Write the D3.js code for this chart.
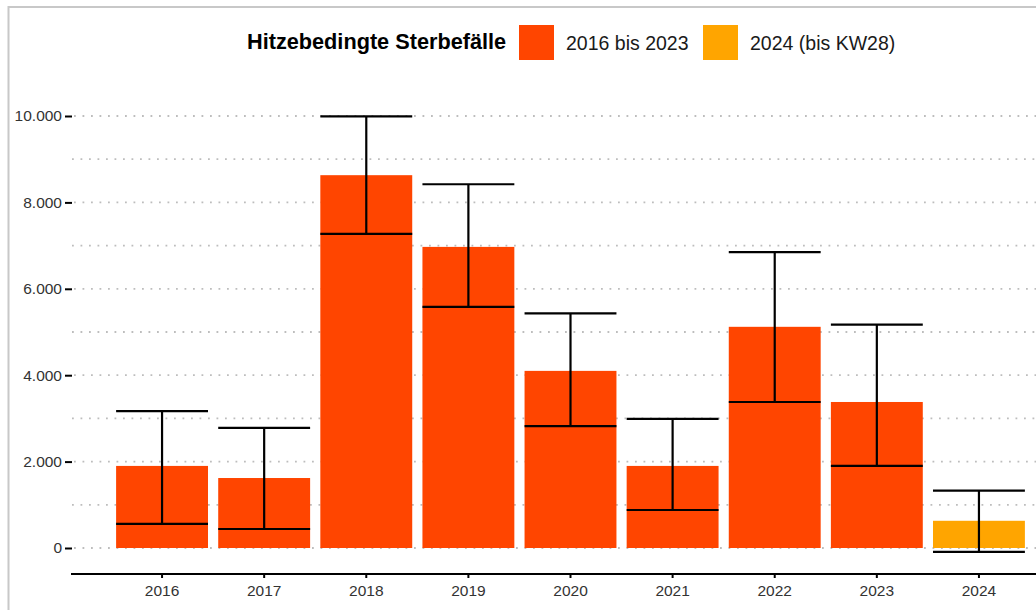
<!DOCTYPE html>
<html>
<head>
<meta charset="utf-8">
<script src="https://cdn.jsdelivr.net/npm/d3@7"></script>
<style>
  html, body { margin: 0; padding: 0; background: #fff; }
  svg { display: block; font-family: "Liberation Sans", Arial, sans-serif; }
</style>
</head>
<body>
<svg id="chart" width="1036" height="610"></svg>
<script>
// ---- data ----
const years = ["2016", "2017", "2018", "2019", "2020", "2021", "2022", "2023", "2024"];
const deaths = [1900, 1620, 8630, 6970, 4100, 1900, 5120, 3380, 630];
const lower = [560, 440, 7270, 5580, 2820, 880, 3380, 1900, -90];
const upper = [3170, 2780, 9990, 8420, 5430, 2990, 6850, 5170, 1330];
const group = ["a", "a", "a", "a", "a", "a", "a", "a", "b"];
const legendTitle = "Hitzebedingte Sterbefälle";
const legendLabels = ["2016 bis 2023", "2024 (bis KW28)"];
const majorTicks = [0, 2000, 4000, 6000, 8000, 10000];
const minorTicks = [1000, 3000, 5000, 7000, 9000];

const colors = { a: "#FF4500", b: "#FFA500" };

const svg = d3.select("#chart");
const W = 1036, H = 610;

const de = d3.formatLocale({ decimal: ",", thousands: ".", grouping: [3], currency: ["", " €"] });
const fmt = de.format(",d");

const x = d3.scaleBand().domain(years).range([111, 1030]).paddingInner(0.1).paddingOuter(0.05);
const y = d3.scaleLinear().domain([0, 10000]).range([548, 116]);

// outer frame (top and left)
svg.append("line").attr("x1", 8).attr("x2", W).attr("y1", 7).attr("y2", 7)
  .attr("stroke", "#c8c8c8").attr("stroke-width", 2);
svg.append("line").attr("x1", 8.5).attr("x2", 8.5).attr("y1", 6).attr("y2", H)
  .attr("stroke", "#c8c8c8").attr("stroke-width", 2);

// grid
const grid = svg.append("g");
grid.selectAll("line.major").data(majorTicks).join("line")
  .attr("x1", 72).attr("x2", W)
  .attr("y1", d => y(d)).attr("y2", d => y(d))
  .attr("stroke", "#bdbdbd").attr("stroke-width", 1.8)
  .attr("stroke-dasharray", "1.8,6.7").attr("stroke-dashoffset", -2);
grid.selectAll("line.minor").data(minorTicks).join("line")
  .attr("x1", 70).attr("x2", W)
  .attr("y1", d => y(d)).attr("y2", d => y(d))
  .attr("stroke", "#bdbdbd").attr("stroke-width", 1.8)
  .attr("stroke-dasharray", "1.8,6.7").attr("stroke-dashoffset", -2);

// bars
svg.append("g").selectAll("rect").data(years).join("rect")
  .attr("x", d => x(d))
  .attr("width", x.bandwidth())
  .attr("y", (d, i) => y(deaths[i]))
  .attr("height", (d, i) => y(0) - y(deaths[i]))
  .attr("fill", (d, i) => colors[group[i]]);

// error bars
const eb = svg.append("g").attr("stroke", "#000").attr("stroke-width", 2.2).attr("fill", "none");
years.forEach((yr, i) => {
  const cx = x(yr) + x.bandwidth() / 2;
  eb.append("line").attr("x1", cx).attr("x2", cx).attr("y1", y(upper[i])).attr("y2", y(lower[i]));
  eb.append("line").attr("x1", x(yr)).attr("x2", x(yr) + x.bandwidth()).attr("y1", y(upper[i])).attr("y2", y(upper[i]));
  eb.append("line").attr("x1", x(yr)).attr("x2", x(yr) + x.bandwidth()).attr("y1", y(lower[i])).attr("y2", y(lower[i]));
});

// y axis
const yAxis = svg.append("g").attr("transform", "translate(72,0)")
  .call(d3.axisLeft(y).tickValues(majorTicks).tickFormat(fmt).tickSize(7).tickPadding(3));
yAxis.select(".domain").remove();
yAxis.selectAll(".tick line").attr("stroke", "#000").attr("stroke-width", 2);
yAxis.selectAll(".tick text").attr("fill", "#333").style("font-size", "15.5px")
  .style("font-family", "'Liberation Sans', Arial, sans-serif");

// x axis
const xAxis = svg.append("g").attr("transform", "translate(0,574)")
  .call(d3.axisBottom(x).tickSize(4).tickPadding(7));
xAxis.select(".domain").remove();
xAxis.selectAll(".tick line").attr("stroke", "#000").attr("stroke-width", 2);
xAxis.selectAll(".tick text").attr("fill", "#333").style("font-size", "15.5px")
  .style("font-family", "'Liberation Sans', Arial, sans-serif");
svg.append("line").attr("x1", 71).attr("x2", W).attr("y1", 574).attr("y2", 574)
  .attr("stroke", "#000").attr("stroke-width", 2.2);

// legend
const lg = svg.append("g");
lg.append("text").attr("x", 247).attr("y", 49).text(legendTitle)
  .attr("font-weight", "bold").attr("font-size", 21.7).attr("fill", "#000");
const items = [
  { label: legendLabels[0], color: colors.a, sx: 519, tx: 566 },
  { label: legendLabels[1], color: colors.b, sx: 703, tx: 750 }
];
items.forEach(it => {
  lg.append("rect").attr("x", it.sx).attr("y", 25).attr("width", 35).attr("height", 35).attr("fill", it.color);
  lg.append("text").attr("x", it.tx).attr("y", 50).text(it.label)
    .attr("font-size", 19.5).attr("fill", "#1a1a1a");
});
</script>
</body>
</html>
